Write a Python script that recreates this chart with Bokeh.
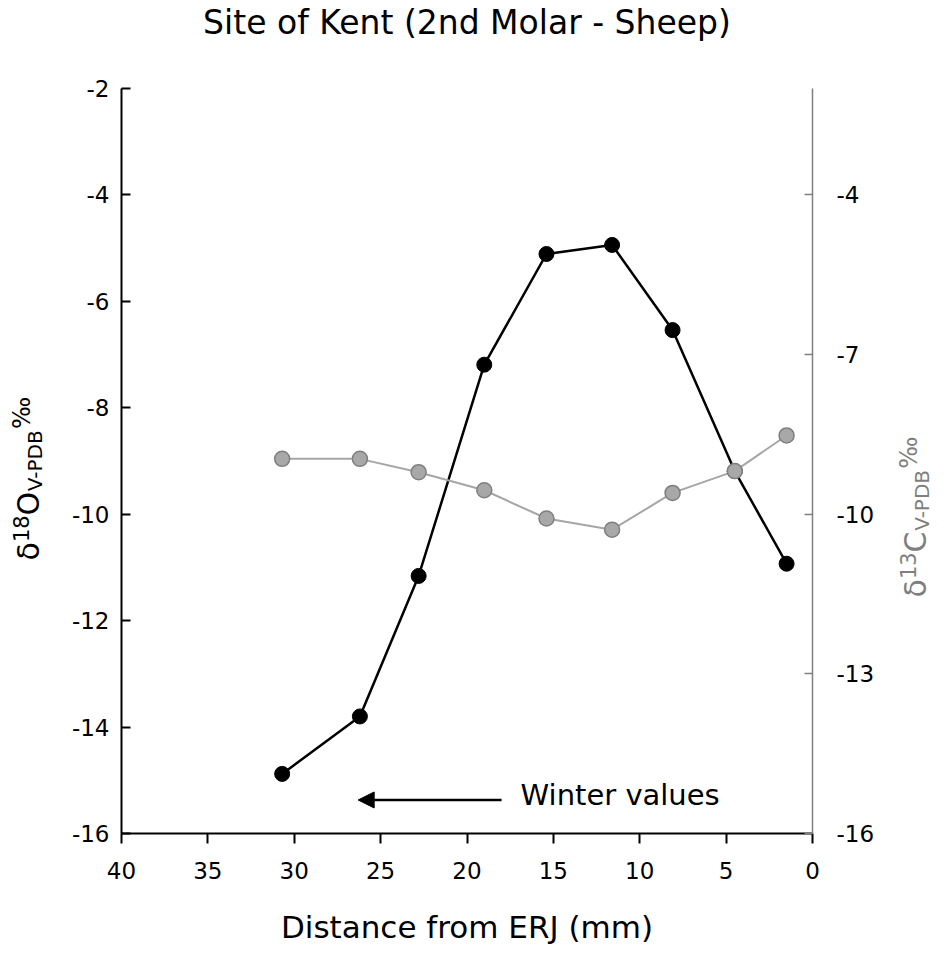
import math
from bokeh.plotting import figure
from bokeh.models import Range1d, LinearAxis, FixedTicker, Label, Arrow, NormalHead
from bokeh.layouts import row, column
from bokeh.embed import file_html
from bokeh.resources import INLINE
from bokeh.core.properties import value

# ---------------- data ----------------
distance_mm = [30.7, 26.2, 22.8, 19.0, 15.4, 11.6, 8.1, 4.5, 1.5]
d18O = [-14.88, -13.80, -11.16, -7.19, -5.11, -4.94, -6.54, -9.19, -10.93]
d13C = [-8.96, -8.96, -9.21, -9.55, -10.08, -10.29, -9.60, -9.19, -8.52]

x_ticks = [0, 5, 10, 15, 20, 25, 30, 35, 40]
y_left_ticks = [-16, -14, -12, -10, -8, -6, -4, -2]
y_right_ticks = [-16, -13, -10, -7, -4]

title_text = "Site of Kent (2nd Molar - Sheep)"
x_label = "Distance from ERJ (mm)"
left_label_parts = [("δ", "main"), ("18", "sup"), ("O", "main"), ("V-PDB", "sub"), ("‰", "pm")]
right_label_parts = [("δ", "main"), ("13", "sup"), ("C", "main"), ("V-PDB", "sub"), ("‰", "pm")]
note_text = "Winter values"
note_pos = [16.9, -15.27]
arrow_from = [18.0, -15.37]
arrow_to = [26.3, -15.37]

FONT = "DejaVu Sans"
TOTAL_W, TOTAL_H = 934, 948
TITLE_H = 44
H = TOTAL_H - TITLE_H
LW, RW = 68, 57                 # side strips holding the rotated axis titles
MAIN_W = TOTAL_W - LW - RW
ML, MR, MT, MB = 53, 65, 88 - TITLE_H, 115
FRAME_TOP, FRAME_BOTTOM = TITLE_H + MT, TOTAL_H - MB   # page pixels of the plot frame
X0, X1, Y0, Y1 = 40, 0, -16, -2


def strip(width, height, y_lo, y_hi):
    f = figure(width=width, height=height, x_range=Range1d(0, width), y_range=Range1d(y_lo, y_hi),
               output_backend="svg", toolbar_location=None,
               min_border_left=0, min_border_right=0, min_border_top=0, min_border_bottom=0,
               x_axis_location=None, y_axis_location=None)
    f.outline_line_color = None
    f.xgrid.visible = False
    f.ygrid.visible = False
    f.background_fill_color = "white"
    f.border_fill_color = "white"
    return f


p = figure(width=MAIN_W, height=H, x_range=Range1d(X0, X1), y_range=Range1d(Y0, Y1),
           output_backend="svg", toolbar_location=None,
           min_border_left=ML, min_border_right=MR, min_border_top=MT, min_border_bottom=MB)
p.extra_y_ranges = {"right": Range1d(Y0, Y1)}
p.outline_line_color = None
p.xgrid.visible = False
p.ygrid.visible = False
p.background_fill_color = "white"
p.border_fill_color = "white"


def hyphen_labels(ticks):
    return {t: str(t) for t in ticks}

# x axis
xa = p.xaxis[0]
xa.ticker = FixedTicker(ticks=x_ticks)
xa.major_label_overrides = hyphen_labels(x_ticks)
xa.axis_line_width = 2
xa.axis_line_color = "black"
xa.major_tick_out = 10
xa.major_tick_in = 0
xa.major_tick_line_width = 2
xa.minor_tick_line_color = None
xa.major_label_text_font = FONT
xa.major_label_text_font_size = "23px"
xa.major_label_text_color = "black"
xa.major_label_standoff = 18
xa.axis_label = x_label
xa.axis_label_text_font = FONT
xa.axis_label_text_font_size = "31px"
xa.axis_label_text_font_style = "normal"
xa.axis_label_text_color = "black"
xa.axis_label_standoff = 27

# left y axis
ya = p.yaxis[0]
ya.ticker = FixedTicker(ticks=y_left_ticks)
ya.major_label_overrides = hyphen_labels(y_left_ticks)
ya.axis_line_width = 2
ya.axis_line_color = "black"
ya.major_tick_out = 0
ya.major_tick_in = 9
ya.major_tick_line_width = 2
ya.minor_tick_line_color = None
ya.major_label_text_font = FONT
ya.major_label_text_font_size = "23px"
ya.major_label_text_color = "black"
ya.major_label_standoff = 12

# right y axis
ra = LinearAxis(y_range_name="right", ticker=FixedTicker(ticks=y_right_ticks))
ra.major_label_overrides = hyphen_labels(y_right_ticks)
ra.axis_line_width = 1.5
ra.axis_line_color = "#7f7f7f"
ra.major_tick_out = 0
ra.major_tick_in = 8
ra.major_tick_line_width = 1.5
ra.major_tick_line_color = "#7f7f7f"
ra.minor_tick_line_color = None
ra.major_label_text_font = FONT
ra.major_label_text_font_size = "23px"
ra.major_label_text_color = "black"
ra.major_label_standoff = 24
p.add_layout(ra, "right")

# series
p.line(distance_mm, d18O, line_color="black", line_width=2.5)
p.scatter(distance_mm, d18O, marker="circle", size=15, fill_color="black", line_color="black")
p.line(distance_mm, d13C, line_color="#a6a6a6", line_width=2, y_range_name="right")
p.scatter(distance_mm, d13C, marker="circle", size=15, fill_color="#a8a8a8",
          line_color="#7f7f7f", line_width=1.5, y_range_name="right")

# arrow + note
p.add_layout(Arrow(end=NormalHead(size=16, fill_color="black", line_color="black"),
                   x_start=arrow_from[0], y_start=arrow_from[1],
                   x_end=arrow_to[0], y_end=arrow_to[1],
                   line_color="black", line_width=2.5))
p.add_layout(Label(x=note_pos[0], y=note_pos[1], text=note_text, text_align="left",
                   text_baseline="middle", text_font=FONT, text_font_size="29px",
                   text_color="black"))

# title strip (data units = page pixels, y measured upwards within the strip)
title_strip = strip(TOTAL_W, TITLE_H, 0, TITLE_H)
title_strip.text(x=[LW + ML + (MAIN_W - ML - MR) / 2], y=[TITLE_H - 22], text=[title_text],
                 text_align="center", text_baseline="middle", text_font=value(FONT),
                 text_font_size=value("33px"), text_color="black")

# rotated y titles, built from pieces (super/subscripts) in narrow side strips.
# In a row, the strip frames are aligned with the main plot frame, so the strip
# y range is expressed as (TOTAL_H - page_y) over the frame's vertical extent.
ADV = {"δ": 0.613, "1": 0.636, "8": 0.636, "3": 0.636, "O": 0.787, "C": 0.698,
       "V": 0.684, "-": 0.361, "P": 0.603, "D": 0.770, "B": 0.686, "‰": 1.4}
STYLE = {"main": (30, 0), "sup": (21, -8), "sub": (20, 6), "pm": (24, -7)}


def label_strip(width, parts, center_px, start_page_y, color):
    f = strip(width, H, TOTAL_H - FRAME_BOTTOM, TOTAL_H - FRAME_TOP)
    py = start_page_y
    for txt, kind in parts:
        size, off = STYLE[kind]
        adv = sum(ADV.get(c, 0.6) for c in txt) * size
        f.text(x=[center_px + off], y=[TOTAL_H - (py - adv / 2)], text=[txt], angle=math.pi / 2,
               text_align="center", text_baseline="middle",
               text_font=value(FONT), text_font_size=value(f"{size}px"), text_color=color)
        py -= adv
    return f

left_strip = label_strip(LW, left_label_parts, 28, 560, "black")
right_strip = label_strip(RW, right_label_parts, 915 - (LW + MAIN_W), 597, "#7f7f7f")

layout = column(title_strip, row(left_strip, p, right_strip))
open("out.html", "w").write(file_html(layout, INLINE))
